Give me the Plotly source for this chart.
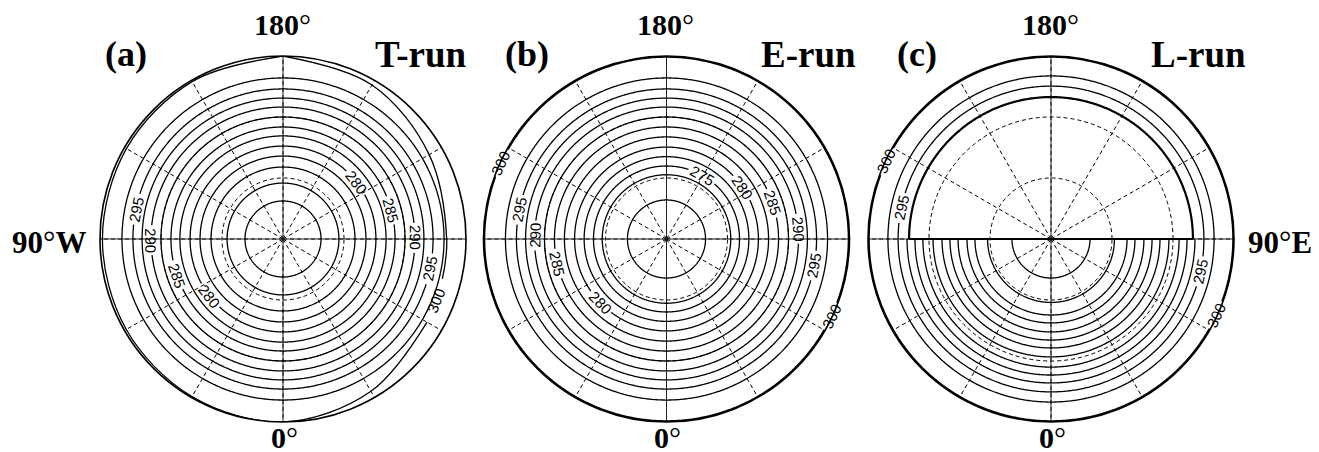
import numpy as np
import plotly.graph_objects as go

# ---------------- data ----------------
# isotherm levels (K) and their colatitude (degrees from the North Pole)
a_levels = [270, 272.5, 275, 277.5, 280, 282.5, 285, 287.5, 290, 292.5, 295, 297.5]
a_colat = [18.7, 27.5, 35.4, 40.8, 45.7, 50.7, 55.1, 60.0, 64.9, 69.3, 73.8, 79.2]
# 300 K isotherm of the T-run is not circular: (longitude, colatitude) pairs
a300_lon_1 = [-180, -150, -120, -90, -60, -30, 0, 30, 60]
a300_col_1 = [90, 89.4, 88.9, 88.8, 89.0, 89.5, 90, 86.5, 81.8]
a300_lon_2 = [76, 90, 120, 150, 180]
a300_col_2 = [80.8, 80.5, 83.0, 87.5, 90]
a_labels = [(280, 127.6), (285, 105.0), (290, 90.5), (295, 78.5), (300, 68.0),
            (295, -101.5), (290, -89.5), (285, -71.1), (280, -52.1)]

b_levels = [270, 272.5, 275, 277.5, 280, 282.5, 285, 287.5, 290, 292.5, 295, 297.5, 300]
b_colat = [19.2, 31.6, 35.9, 40.5, 45.2, 50.2, 55.1, 60.0, 64.9, 69.3, 73.8, 79.2, 89.6]
b_labels = [(300, -114.7), (295, -101.3), (290, -91.7), (285, -77.4), (280, -46.2),
            (275, 150.8), (280, 124.2), (285, 108.9), (290, 94.4), (295, 79.7), (300, 64.9)]

# L-run: southern (0 deg side) half-rings, full outer rings, masked northern half
c_half_levels = [267.5, 270, 272.5, 275, 277.5, 280, 282.5, 285, 287.5, 290, 292.5]
c_half_colat = [19.2, 31.2, 37.4, 41.3, 45.7, 49.7, 53.6, 58.0, 63.0, 66.9, 70.8]
c_full_levels = [295, 297.5, 300]
c_full_colat = [75.2, 80.2, 89.6]
c_mask_colat = 69.8
c_labels = [(300, -115.1), (295, -101.9), (295, 77.7), (300, 65.1)]

panel_tags = ["(a)", "(b)", "(c)"]
panel_runs = ["T-run", "E-run", "L-run"]
lon_labels = ["180°", "0°", "90°W", "90°E"]

# ---------------- layout geometry ----------------
W, H = 1319, 452
R = 183.0
centers = [(275.0, 231.0), (658.5, 231.0), (1043.0, 231.0)]
LBL_FONT = 15
HALF_W = 14.5  # half length of a contour label in px


def dom(cx, cy):
    return dict(x=[(cx - R) / W, (cx + R) / W], y=[(H - cy - R) / H, (H - cy + R) / H])


def tangent_textangle(lon):
    phi = lon - 90.0
    d = phi - 90.0
    d = (d + 180.0) % 360.0 - 180.0
    if d > 90:
        d -= 180
    if d <= -90:
        d += 180
    return -d


def gap_list(labels, level, colat):
    rpx = colat * R / 90.0
    half = np.degrees(HALF_W / rpx)
    return [(lon, half) for (lv, lon) in labels if lv == level]


def ring(colat, lon0, lon1, gaps):
    th = np.arange(lon0, lon1 + 1e-6, 0.5)
    r = []
    for t in th:
        hide = any(abs(((t - g + 180) % 360) - 180) < h for g, h in gaps)
        r.append(None if hide else colat)
    return r, th.tolist()


fig = go.Figure()
subs = ["polar", "polar2", "polar3"]
LW = 1.3


def add_line(sub, r, th, width=LW, color="black", shape="linear"):
    fig.add_trace(go.Scatterpolar(r=r, theta=th, mode="lines", subplot=sub,
                                  line=dict(color=color, width=width, shape=shape),
                                  hoverinfo="skip", showlegend=False, connectgaps=False))


annotations = []


def add_label(i, level, lon, colat):
    cx, cy = centers[i]
    rpx = colat * R / 90.0
    phi = np.radians(lon - 90.0)
    x = cx + rpx * np.cos(phi)
    y = cy - rpx * np.sin(phi)
    annotations.append(dict(x=x / W, y=1 - y / H, xref="paper", yref="paper",
                            text=str(level), showarrow=False, xanchor="center", yanchor="middle",
                            textangle=tangent_textangle(lon),
                            font=dict(family="Liberation Sans", size=LBL_FONT, color="black")))


# cross lines (solid) for each panel
for i, sub in enumerate(subs):
    add_line(sub, [90, 0, 90], [0, 0, 180], width=1.0, color="#222")
    add_line(sub, [90, 0, 90], [90, 90, 270], width=1.0, color="#222")

# ---- panel (a)
for lv, col in zip(a_levels, a_colat):
    r, th = ring(col, -180, 180, gap_list(a_labels, lv, col))
    add_line("polar", r, th)
add_line("polar", a300_col_1, a300_lon_1, shape="spline")
add_line("polar", a300_col_2, a300_lon_2, shape="spline")
for lv, lon in a_labels:
    if lv == 300:
        col = float(np.interp(lon, a300_lon_1 + a300_lon_2, a300_col_1 + a300_col_2))
    else:
        col = a_colat[a_levels.index(lv)]
    add_label(0, lv, lon, col)

# ---- panel (b)
for lv, col in zip(b_levels, b_colat):
    r, th = ring(col, -180, 180, gap_list(b_labels, lv, col))
    add_line("polar2", r, th, width=(2.0 if lv == 300 else LW))
for lv, lon in b_labels:
    add_label(1, lv, lon, b_colat[b_levels.index(lv)])

# ---- panel (c)
for lv, col in zip(c_half_levels, c_half_colat):
    r, th = ring(col, -90, 90, gap_list(c_labels, lv, col))
    add_line("polar3", r, th)
for lv, col in zip(c_full_levels, c_full_colat):
    r, th = ring(col, -180, 180, gap_list(c_labels, lv, col))
    add_line("polar3", r, th, width=(2.0 if lv == 300 else LW))
# masked northern half: bold semicircle + diameter
r, th = ring(c_mask_colat, 90, 270, [])
add_line("polar3", r, th, width=2.2)
add_line("polar3", [c_mask_colat, 0, c_mask_colat], [90, 90, 270], width=2.2)
for lv, lon in c_labels:
    col = (c_full_colat[c_full_levels.index(lv)] if lv in c_full_levels
           else c_half_colat[c_half_levels.index(lv)])
    add_label(2, lv, lon, col)

# ---------------- text around the maps ----------------
SERIF = "Liberation Serif"


def deg(s):
    return s.replace("°", "</b><span style='font-weight:normal'>°</span><b>")


def txt(x, y, s, size):
    annotations.append(dict(x=x / W, y=1 - y / H, xref="paper", yref="paper", text="<b>" + deg(s) + "</b>",
                            showarrow=False, xanchor="center", yanchor="middle",
                            font=dict(family=SERIF, size=size, color="black")))


for i, (cx, cy) in enumerate(centers):
    txt(cx - 1, 16, lon_labels[0], 30)
    txt(cx + 1, 429, lon_labels[1], 30)
txt(41, 234, lon_labels[2], 31)
txt(1272, 234, lon_labels[3], 31)

tag_x = [118, 519, 909]
run_x = [413, 801, 1190]
for i in range(3):
    txt(tag_x[i], 46, panel_tags[i], 36)
    txt(run_x[i], 46, panel_runs[i], 37)

polar_common = dict(
    bgcolor="white",
    angularaxis=dict(rotation=270, direction="counterclockwise", dtick=30, showticklabels=False,
                     ticks="", showgrid=True, griddash="4px,3px", gridcolor="black", gridwidth=0.8,
                     showline=True, linecolor="black", linewidth=1.6),
    radialaxis=dict(range=[0, 90], tickvals=[30, 60], showticklabels=False, ticks="",
                    showline=False, showgrid=True, griddash="4px,3px", gridcolor="black",
                    gridwidth=0.8),
)

lay = dict(width=W, height=H, margin=dict(l=0, r=0, t=0, b=0), paper_bgcolor="white",
           plot_bgcolor="white", showlegend=False, annotations=annotations)
for i, sub in enumerate(subs):
    d = dict(polar_common)
    d["domain"] = dom(*centers[i])
    lay[sub] = d
fig.update_layout(**lay)

fig.write_html("out.html")
